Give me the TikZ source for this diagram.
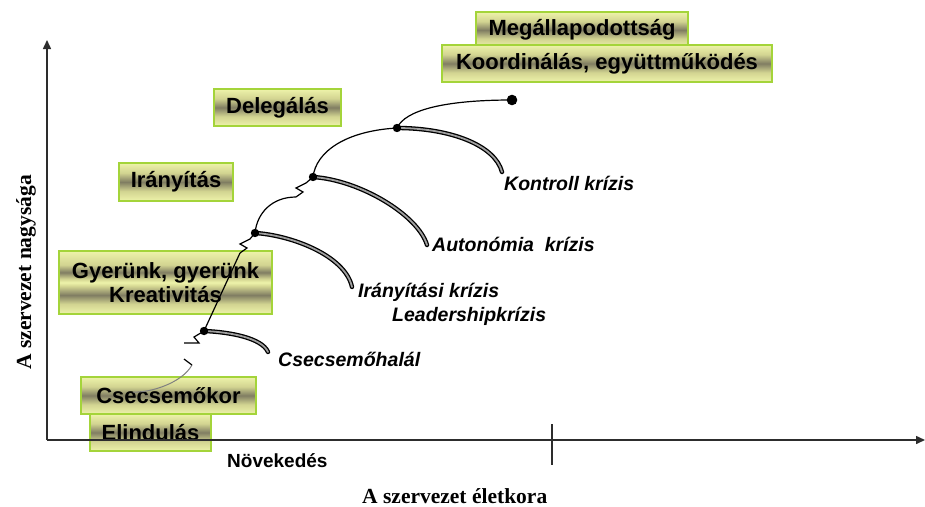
\documentclass[tikz,border=0pt]{standalone}
\usepackage{fontspec}
\setmainfont{Liberation Serif}
\newfontfamily\labelfont{Liberation Sans}
\usetikzlibrary{arrows.meta}

\definecolor{byel}{RGB}{238,243,170}
\definecolor{bmid}{RGB}{210,212,145}
\definecolor{bdark}{RGB}{128,125,98}
\definecolor{bborder}{RGB}{164,212,58}
\definecolor{axiscol}{RGB}{45,45,45}

% light yellow box with one darker horizontal band
\pgfdeclareverticalshading{oneband}{100bp}{color(0bp)=(byel); color(25bp)=(byel);
  color(38bp)=(bmid); color(50bp)=(bdark); color(62bp)=(bmid); color(75bp)=(byel); color(100bp)=(byel)}
% same box for two lines of text
\pgfdeclareverticalshading{twoband}{100bp}{color(0bp)=(byel); color(25bp)=(byel);
  color(33bp)=(bmid); color(40bp)=(bdark); color(47bp)=(bmid); color(50bp)=(byel);
  color(53bp)=(bmid); color(58bp)=(bdark); color(64bp)=(bmid); color(75bp)=(byel); color(100bp)=(byel)}

\tikzset{
  stagebox/.style={draw=bborder, line width=1.4pt, shading=oneband, inner sep=0pt,
    font=\labelfont\bfseries\fontsize{22}{24}\selectfont, align=center},
  crisislabel/.style={anchor=base west, inner sep=0pt,
    font=\labelfont\bfseries\itshape\fontsize{19.5}{22}\selectfont},
  axisline/.style={draw=axiscol, line width=1.5pt},
  growth/.style={draw=black, line width=1.2pt},
  crisis/.style={draw=black, double=gray!75, line width=1.3pt, double distance=1.8pt, line cap=round},
  dot/.style={fill=black}
}

\begin{document}
\begin{tikzpicture}[x=1pt,y=-1pt]
\useasboundingbox (0,0) rectangle (925,506);

% stage boxes
\node[stagebox, minimum width=212pt, minimum height=36pt] (megall) at (582,30) {Megállapodottság};
\node[stagebox, minimum width=330pt, minimum height=37pt] (koord) at (607,63.5) {Koordinálás, együttműködés};
\node[stagebox, minimum width=127pt, minimum height=37pt] (deleg) at (277.5,107.5) {Delegálás};
\node[stagebox, minimum width=114pt, minimum height=38pt] (iranyit) at (176,182) {Irányítás};
\node[stagebox, shading=twoband, minimum width=213pt, minimum height=63pt] (gyerunk) at (165.5,282.5) {Gyerünk, gyerünk\\Kreativitás};
\node[stagebox, minimum width=175pt, minimum height=37pt] (csecsemokor) at (168.5,395.5) {Csecsemőkor};
\node[stagebox, minimum width=121pt, minimum height=37pt] (elindulas) at (150.5,432.5) {Elindulás};

% axes
\coordinate (origin) at (47,440);
\coordinate (ytop) at (47,40);
\coordinate (xend) at (925,440);
\coordinate (tickbot) at (552,465);
\coordinate (ticktop) at (552,424);
\draw[axisline, -{Triangle[length=9pt,width=8pt]}] (origin) -- (ytop);
\draw[axisline, -{Triangle[length=9pt,width=8pt]}] (origin) -- (xend);
\draw[axisline, line width=1.3pt] (ticktop) -- (tickbot);

% growth path points
\coordinate (start) at (133,392);
\coordinate (brk) at (192,365);
\coordinate (brkend) at (184,359);
\coordinate (zz0) at (184,343);
\coordinate (d0) at (204,331);
\coordinate (zz1) at (240,253);
\coordinate (d1) at (255,233);
\coordinate (zz2) at (296,197);
\coordinate (d2) at (313,177);
\coordinate (d3) at (397,128);
\coordinate (d4) at (512,100);
% crisis arc ends
\coordinate (e0) at (268,352);
\coordinate (e1) at (352,287);
\coordinate (e2) at (427,245);
\coordinate (e3) at (502,172);

% crisis arcs
\draw[crisis] (d0) .. controls (230,332) and (262,338) .. (e0);
\draw[crisis] (d1) .. controls (290,235) and (345,255) .. (e1);
\draw[crisis] (d2) .. controls (360,180) and (418,215) .. (e2);
\draw[crisis] (d3) .. controls (450,128) and (495,145) .. (e3);

% growth path
\draw[draw=gray, line width=1pt] (start) .. controls (150,393) and (182,383) .. (brk);
\draw[growth] (brk) -- (brkend);
\draw[growth] (zz0) -- (199,343) -- (194,337) -- (d0);
\draw[growth] (d0) -- (zz1);
\draw[growth] (zz1) -- (247,248) -- (240,244) -- (250,239) -- (d1);
\draw[growth] (d1) .. controls (257,213) and (272,197) .. (zz2);
\draw[growth] (zz2) -- (303,192) -- (296,188) -- (306,183) -- (d2);
\draw[growth] (d2) .. controls (316,152) and (345,131) .. (d3);
\draw[growth] (d3) .. controls (405,110) and (445,100) .. (d4);

\fill[dot] (d0) circle (4.2);
\fill[dot] (d1) circle (4.2);
\fill[dot] (d2) circle (4.2);
\fill[dot] (d3) circle (4.2);
\fill[dot] (d4) circle (5.3);

% crisis labels
\node[crisislabel] (kontroll) at (504,190) {Kontroll krízis};
\node[crisislabel] (autonomia) at (432,251) {Autonómia~ krízis};
\node[crisislabel] (iranyitasi) at (358,297) {Irányítási krízis};
\node[crisislabel] (leadership) at (392,321) {Leadershipkrízis};
\node[crisislabel] (csecsemohalal) at (278,366) {Csecsemőhalál};

% axis labels
\node[anchor=base west, inner sep=0pt, font=\labelfont\bfseries\fontsize{19}{21}\selectfont] (novekedes) at (227,467) {Növekedés};
\node[anchor=base west, inner sep=0pt, font=\bfseries\fontsize{21.5}{24}\selectfont] (xlabel) at (362,503) {A szervezet életkora};
\node[anchor=base west, inner sep=0pt, rotate=90, font=\bfseries\fontsize{21.5}{24}\selectfont] (ylabel) at (31,370) {A szervezet nagysága};
\end{tikzpicture}
\end{document}
